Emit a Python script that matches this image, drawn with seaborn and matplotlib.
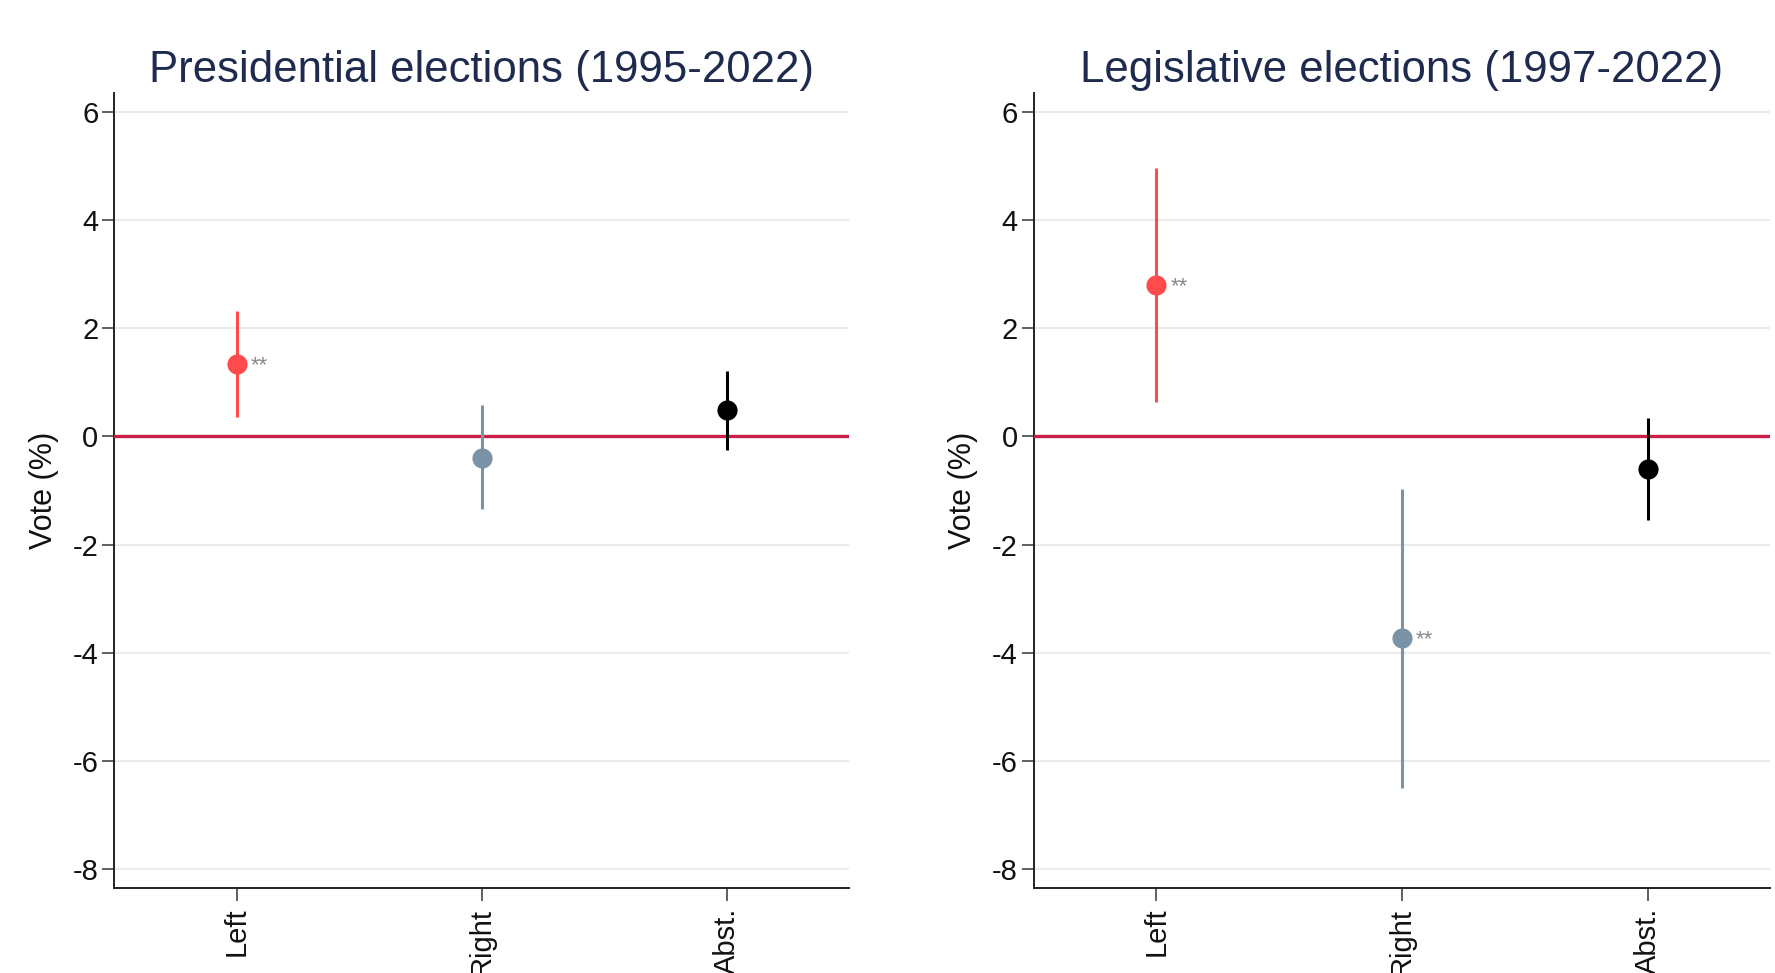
import numpy as np
import pandas as pd
import matplotlib
matplotlib.use("Agg")
import matplotlib.pyplot as plt
import seaborn as sns

# Estimated effects on vote share (percentage points) with 95% intervals
categories = ["Left", "Right", "Abst."]

pres_est = [1.34, -0.40, 0.48]
pres_lo = [0.35, -1.35, -0.25]
pres_hi = [2.31, 0.57, 1.21]
pres_stars = ["**", "", ""]

leg_est = [2.80, -3.73, -0.60]
leg_lo = [0.64, -6.49, -1.55]
leg_hi = [4.96, -0.98, 0.33]
leg_stars = ["**", "**", ""]

titles = ["Presidential elections (1995-2022)", "Legislative elections (1997-2022)"]
y_ticks = [-8, -6, -4, -2, 0, 2, 4, 6]
y_label = "Vote (%)"

palette = {"Left": "#ff4b4b", "Right": "#7b93a6", "Abst.": "#000000"}
zero_color = "#cc1f48"
title_color = "#1e2b4f"
grid_color = "#ebebeb"
star_color = "#8a8a8a"

sns.set_theme(style="white")
plt.rcParams["font.family"] = ["Liberation Sans", "DejaVu Sans"]

fig = plt.figure(figsize=(17.75, 9.73), dpi=100)
fig.patch.set_facecolor("white")

panels = [
    (titles[0], pres_est, pres_lo, pres_hi, pres_stars, [0.0644, 0.0872, 0.4141, 0.8175]),
    (titles[1], leg_est, leg_lo, leg_hi, leg_stars, [0.5823, 0.0872, 0.4151, 0.8175]),
]

for title, est, lo, hi, stars, rect in panels:
    ax = fig.add_axes(rect)
    df = pd.DataFrame({"party": categories, "est": est, "lo": lo, "hi": hi, "stars": stars})
    pos = np.arange(len(categories))

    sns.pointplot(
        data=df, x="party", y="est", hue="party", order=categories,
        hue_order=categories, palette=palette, errorbar=None,
        linestyle="none", markers="o", markersize=14.5, markeredgewidth=0,
        legend=False, ax=ax,
    )
    for ln in ax.lines:
        ln.set_zorder(5)

    # confidence intervals
    ax.vlines(pos, df["lo"], df["hi"], colors=[palette[c] for c in categories],
              linewidth=2.2, zorder=4)

    # reference line at zero
    ax.axhline(0, color=zero_color, linewidth=2.4, zorder=3)

    # significance markers
    for p, e, s in zip(pos, df["est"], df["stars"]):
        if s:
            ax.annotate(s, xy=(p, e), xytext=(10, -5), textcoords="offset points",
                        fontsize=16, color=star_color, ha="left", va="baseline",
                        zorder=6)

    ax.set_xlim(-0.5, 2.5)
    ax.set_ylim(-8.35, 6.35)
    ax.set_yticks(y_ticks)
    ax.set_yticklabels([str(t) for t in y_ticks])
    ax.yaxis.grid(True, color=grid_color, linewidth=1.5)
    ax.xaxis.grid(False)
    ax.set_axisbelow(True)

    for side in ["top", "right"]:
        ax.spines[side].set_visible(False)
    for side in ["left", "bottom"]:
        ax.spines[side].set_color("#222222")
        ax.spines[side].set_linewidth(1.4)

    ax.tick_params(axis="y", which="major", left=True, length=8.5, width=1.2,
                   color="#444444", labelsize=21, labelcolor="#111111", pad=3)
    ax.tick_params(axis="x", which="major", bottom=True, length=9, width=1.2,
                   color="#444444", labelsize=21, labelcolor="#111111", pad=5,
                   labelrotation=90)

    ax.set_xlabel("")
    ax.set_ylabel(y_label, fontsize=22, color="#111111", labelpad=10)
    ax.set_title(title, fontsize=31.5, color=title_color, pad=8)

fig.savefig("out.png", dpi=100, facecolor="white")
